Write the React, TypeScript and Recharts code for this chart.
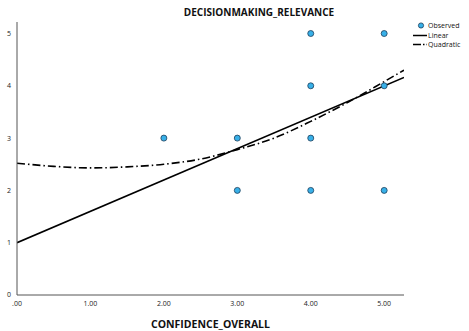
import {
  ComposedChart,
  Label,
  Line,
  Scatter,
  XAxis,
  YAxis,
} from "recharts";

// observed cases
const observedX = [2, 3, 3, 4, 4, 4, 4, 5, 5, 5];
const observedY = [3, 3, 2, 5, 4, 3, 2, 5, 4, 2];

// fitted curves
const linearX = [0, 5.27];
const linearY = [1.0, 4.16];
const quadX = [0, 0.5, 1, 1.5, 2, 2.5, 3, 3.5, 4, 4.5, 5, 5.27];
const quadY = [2.52, 2.46, 2.43, 2.45, 2.5, 2.6, 2.78, 3.0, 3.32, 3.68, 4.08, 4.3];

const xTicks = [0, 1, 2, 3, 4, 5];
const yTicks = [0, 1, 2, 3, 4, 5];

const observed = observedX.map((x, i) => ({ x, y: observedY[i] }));
const linear = linearX.map((x, i) => ({ x, y: linearY[i] }));
const quadratic = quadX.map((x, i) => ({ x, y: quadY[i] }));

const font = "'Open Sans', 'DejaVu Sans', sans-serif";
const pointFill = "#38b0e8";

const fmtX = (v: number) => (v === 0 ? ".00" : v.toFixed(2));

function Dot(props: any) {
  return (
    <circle
      cx={props.cx}
      cy={props.cy}
      r={3}
      fill={pointFill}
      stroke="#1d3f5c"
      strokeWidth={0.8}
    />
  );
}

const rowStyle = {
  display: "flex",
  alignItems: "center",
  whiteSpace: "nowrap" as const,
  height: 9.6,
};

function LegendBox() {
  return (
    <div
      style={{
        position: "absolute",
        left: 412,
        top: 21,
        fontFamily: font,
        fontSize: 7,
        color: "#111",
        lineHeight: "9.6px",
      }}
    >
      <div style={rowStyle}>
        <svg width={16} height={9}>
          <circle cx={9} cy={4.5} r={2.6} fill={pointFill} stroke="#1d3f5c" strokeWidth={0.8} />
        </svg>
        <span>Observed</span>
      </div>
      <div style={rowStyle}>
        <svg width={16} height={9}>
          <line x1={1} y1={4.5} x2={15} y2={4.5} stroke="#000" strokeWidth={1.5} />
        </svg>
        <span>Linear</span>
      </div>
      <div style={rowStyle}>
        <svg width={16} height={9}>
          <line x1={1} y1={4.5} x2={15} y2={4.5} stroke="#000" strokeWidth={1.5} strokeDasharray="8 2 1.5 2" />
        </svg>
        <span>Quadratic</span>
      </div>
    </div>
  );
}

export default function App() {
  return (
    <div
      style={{
        position: "absolute",
        left: 0,
        top: 0,
        width: 469,
        height: 331,
        overflow: "hidden",
        background: "#fff",
      }}
    >
      <div
        style={{
          position: "absolute",
          top: 5,
          left: 0,
          width: 518,
          textAlign: "center",
          fontFamily: font,
          fontWeight: 700,
          fontSize: 10,
          color: "#111",
        }}
      >
        DECISIONMAKING_RELEVANCE
      </div>
      <ComposedChart
        width={469}
        height={331}
        margin={{ top: 22, right: 65, bottom: 0, left: 0 }}
      >
        <XAxis
          type="number"
          dataKey="x"
          domain={[0, 5.27]}
          ticks={xTicks}
          tickFormatter={fmtX}
          allowDataOverflow
          height={36}
          tickLine={false}
          tickSize={4}
          stroke="#555"
          tick={{ fontSize: 7, fill: "#222", fontFamily: font }}
        >
          <Label
            value="CONFIDENCE_OVERALL"
            position="insideBottom"
            offset={3}
            style={{ fontSize: 10.5, fontWeight: 700, fill: "#111", fontFamily: font }}
          />
        </XAxis>
        <YAxis
          type="number"
          dataKey="y"
          domain={[0, 5.22]}
          ticks={yTicks}
          allowDataOverflow
          width={17}
          tickLine={false}
          tickSize={4}
          stroke="#555"
          tick={{ fontSize: 7, fill: "#222", fontFamily: font }}
        />
        <Line
          data={linear}
          dataKey="y"
          type="linear"
          stroke="#000"
          strokeWidth={1.6}
          dot={false}
          activeDot={false}
          isAnimationActive={false}
        />
        <Line
          data={quadratic}
          dataKey="y"
          type="monotone"
          stroke="#000"
          strokeWidth={1.6}
          strokeDasharray="8 3 1.5 3"
          dot={false}
          activeDot={false}
          isAnimationActive={false}
        />
        <Scatter
          data={observed}
          dataKey="y"
          shape={<Dot />}
          isAnimationActive={false}
        />
      </ComposedChart>
      <LegendBox />
    </div>
  );
}
